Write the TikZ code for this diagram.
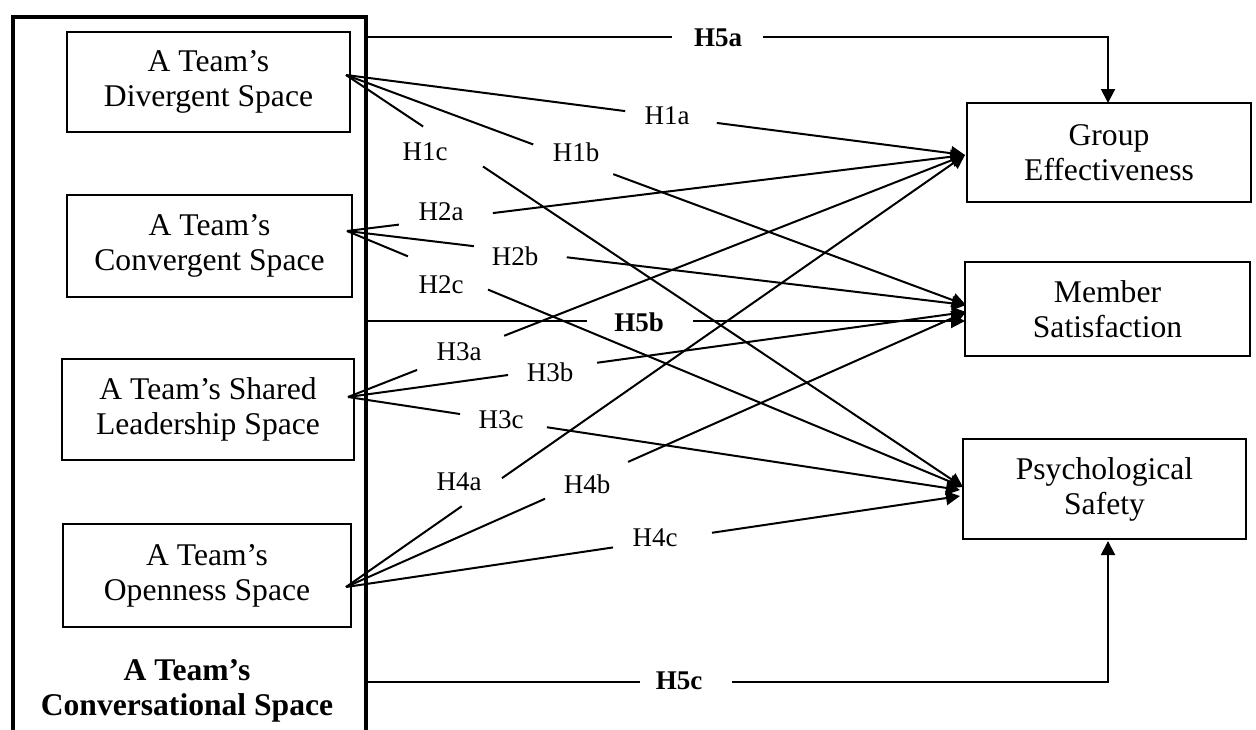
\documentclass[tikz,border=0pt]{standalone}
\usepackage{fontspec}
\setmainfont{Liberation Serif}
\usetikzlibrary{arrows.meta}
\begin{document}
\begin{tikzpicture}[x=0.5pt,y=-0.5pt,
  boxtext/.style={font=\fontsize{15.8}{17.5}\selectfont},
  spacebox/.style={draw,line width=1pt,align=center,inner sep=0pt,boxtext},
  outcome/.style={draw,line width=1.2pt,align=center,inner sep=0pt,boxtext},
  hyp/.style={inner sep=0pt,font=\fontsize{13.5}{16}\selectfont},
  hypbold/.style={inner sep=0pt,font=\fontsize{13.5}{16}\selectfont\bfseries},
  link/.style={line width=1pt},
  arr/.style={line width=1pt,-{Triangle[length=7pt,width=7pt]}}
]
\useasboundingbox (0,0) rectangle (1256,729);
\clip (0,0) rectangle (1256,729);

% enclosing conversational space (open at the bottom of the page)
\node[draw,line width=2pt,anchor=north west,inner sep=0pt,
      minimum width=176.5pt,minimum height=366pt] (space) at (11,15) {};
\node[align=center,font=\fontsize{15.8}{17.5}\selectfont\bfseries] (spacelabel)
  at (187,691) {A Team’s\\Conversational Space};

% the four conversational spaces
\node[spacebox,minimum width=141.5pt,minimum height=50pt] (div) at (208.5,82) {A Team’s\\Divergent Space};
\node[spacebox,minimum width=142.5pt,minimum height=51pt] (conv) at (209.5,246) {A Team’s\\Convergent Space};
\node[spacebox,minimum width=146pt,minimum height=50.5pt] (lead) at (208,409.5) {A Team’s Shared\\Leadership Space};
\node[spacebox,minimum width=144pt,minimum height=51.5pt] (open) at (207,575.5) {A Team’s\\Openness Space};

% outcomes
\node[outcome,minimum width=142pt,minimum height=49.5pt] (ge) at (1109,152.5) {Group\\Effectiveness};
\node[outcome,minimum width=142.5pt,minimum height=47pt] (ms) at (1107.5,309) {Member\\Satisfaction};
\node[outcome,minimum width=141.5pt,minimum height=50pt] (ps) at (1104.5,489) {Psychological\\Safety};

% fan-out points inside the space boxes
\coordinate (o1) at (346,75);
\coordinate (o2) at (347,231);
\coordinate (o3) at (348,397);
\coordinate (o4) at (346,587);

% arrow ends on the outcome boxes
\coordinate (ge-in) at (965,155);
\coordinate (ms-in1) at (966,305);
\coordinate (ms-in2) at (966,312);
\coordinate (ps-in1) at (963,487);
\coordinate (ps-in3) at (960,490);
\coordinate (ps-in4) at (960,496);

% hypothesis paths, interrupted where their labels sit
\foreach \s/\t/\p/\q in {
  o1/ge-in/0.451/0.599, o1/ms-in1/0.302/0.431, o1/ps-in1/0.125/0.222,
  o2/ge-in/0.084/0.236, o2/ms-in1/0.205/0.355, o2/ps-in1/0.099/0.229,
  o3/ge-in/0.112/0.253, o3/ms-in2/0.259/0.403, o3/ps-in3/0.183/0.325,
  o4/ge-in/0.187/0.252, o4/ms-in2/0.321/0.455, o4/ps-in4/0.435/0.596} {
  \path (\s) -- (\t) coordinate[pos=\p] (g1) coordinate[pos=\q] (g2);
  \draw[link] (\s) -- (g1);
  \draw[arr] (g2) -- (\t);
}

\node[hyp] (h1a) at (667,116) {H1a};
\node[hyp] (h1b) at (576,152) {H1b};
\node[hyp] (h1c) at (425,152) {H1c};
\node[hyp] (h2a) at (441,212) {H2a};
\node[hyp] (h2b) at (515,256) {H2b};
\node[hyp] (h2c) at (441,285) {H2c};
\node[hyp] (h3a) at (459,352) {H3a};
\node[hyp] (h3b) at (550,372) {H3b};
\node[hyp] (h3c) at (501,420) {H3c};
\node[hyp] (h4a) at (459,482) {H4a};
\node[hyp] (h4b) at (587,484) {H4b};
\node[hyp] (h4c) at (655,538) {H4c};

% direct paths from the whole conversational space
\coordinate (h5a-0) at (366,37);
\coordinate (h5a-l) at (672,37);
\coordinate (h5a-r) at (763,37);
\coordinate (ge-top) at (1108,103);
\node[hypbold] (h5a) at (718,38) {H5a};
\draw[link] (h5a-0) -- (h5a-l);
\draw[arr] (h5a-r) -| (ge-top);

\coordinate (h5b-0) at (366,321);
\coordinate (h5b-l) at (587,321);
\coordinate (h5b-r) at (693,321);
\coordinate (ms-in5) at (965,321);
\node[hypbold] (h5b) at (639,322) {H5b};
\draw[link] (h5b-0) -- (h5b-l);
\draw[arr] (h5b-r) -- (ms-in5);

\coordinate (h5c-0) at (366,682);
\coordinate (h5c-l) at (640,682);
\coordinate (h5c-r) at (732,682);
\coordinate (ps-bot) at (1108,541);
\node[hypbold] (h5c) at (679,681) {H5c};
\draw[link] (h5c-0) -- (h5c-l);
\draw[arr] (h5c-r) -| (ps-bot);
\end{tikzpicture}
\end{document}
